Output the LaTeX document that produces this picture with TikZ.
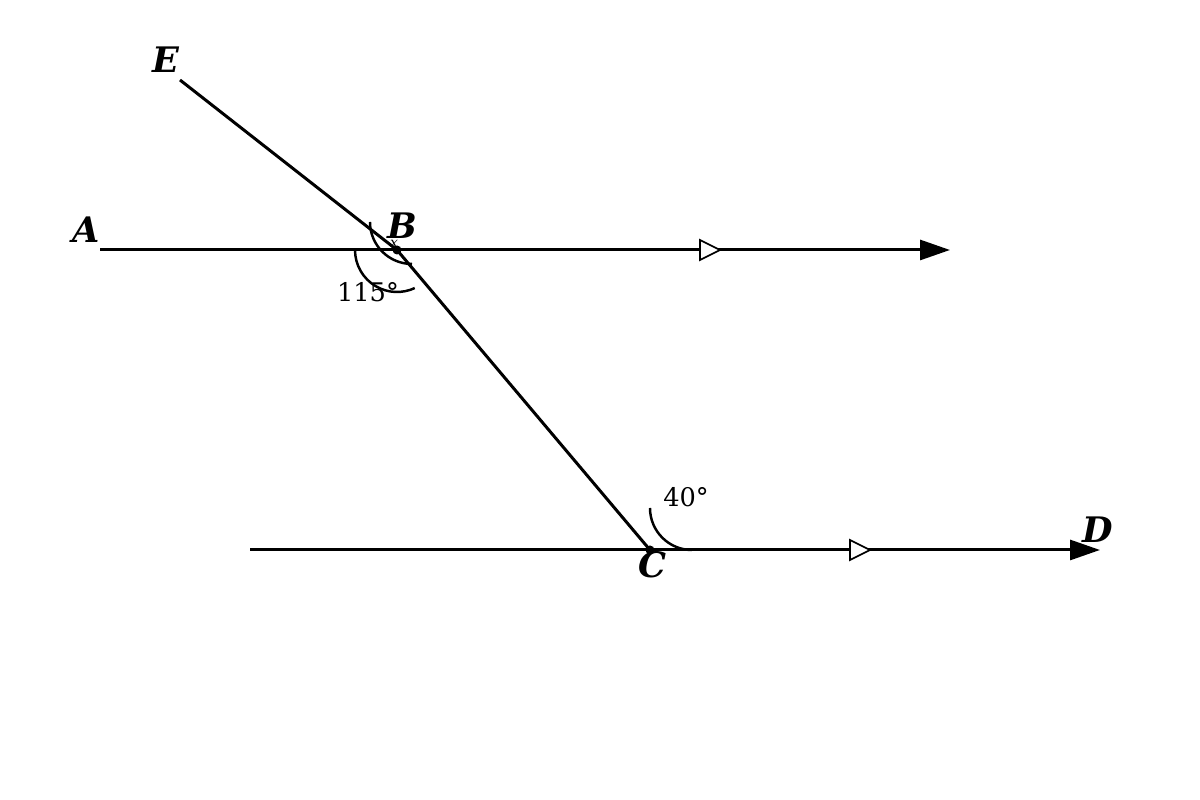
\documentclass[tikz,border=0pt]{standalone}
\usepackage{fontspec}
\setmainfont{DejaVu Serif}
\usetikzlibrary{arrows.meta}

\begin{document}
\begin{tikzpicture}[auto,
    line/.style ={line width=0.85pt},
    endarrow/.style ={line width=0.85pt, -{Triangle[length=3mm,width=2mm]}},
    angarc/.style ={line width=0.7pt},
    marker/.style ={line width=0.5pt, fill=white},
    point/.style ={circle, fill, inner sep=0pt, minimum size=0.9mm},
    letter/.style ={font=\fontsize{10}{12}\selectfont\bfseries\itshape},
    degree/.style ={font=\fontsize{7.3}{9}\selectfont}]
   \useasboundingbox (0,0) rectangle (12,8);

   \coordinate (A) at (1.00,5.50);
   \coordinate (Aend) at (9.50,5.50);
   \coordinate (E) at (1.80,7.20);
   \coordinate (Cstart) at (2.50,2.50);
   \coordinate (Dend) at (11.00,2.50);
   \node[point] (B) at (3.97,5.50) {};
   \node[point] (C) at (6.50,2.50) {};

   \draw[endarrow] (A) -- (Aend);
   \draw[endarrow] (Cstart) -- (Dend);
   \draw[line] (E) -- (B.center);
   \draw[line] (B.center) -- (C.center);

   % angle marks
   \draw[angarc] (3.70,5.78) arc (180:270:0.42);
   \draw[angarc] (3.55,5.50) arc (180:295:0.42);
   \draw[angarc] (6.50,2.92) arc (180:270:0.42);

   % parallel marks
   \draw[marker] (7.00,5.60) -- (7.20,5.50) -- (7.00,5.40) -- cycle;
   \draw[marker] (8.50,2.60) -- (8.70,2.50) -- (8.50,2.40) -- cycle;

   \node[letter] (lE) at (1.66,7.40) {E};
   \node[letter] (lA) at (0.86,5.70) {A};
   \node[letter] (lB) at (4.02,5.74) {B};
   \node[letter] (lC) at (6.52,2.35) {C};
   \node[letter] (lD) at (10.98,2.70) {D};
   \node[font=\fontsize{4}{5}\selectfont\itshape] (lx) at (3.94,5.56) {x};
   \node[degree] (a115) at (3.68,5.08) {115°};
   \node[degree] (a40) at (6.86,3.03) {40°};
 \end{tikzpicture}
\end{document}
